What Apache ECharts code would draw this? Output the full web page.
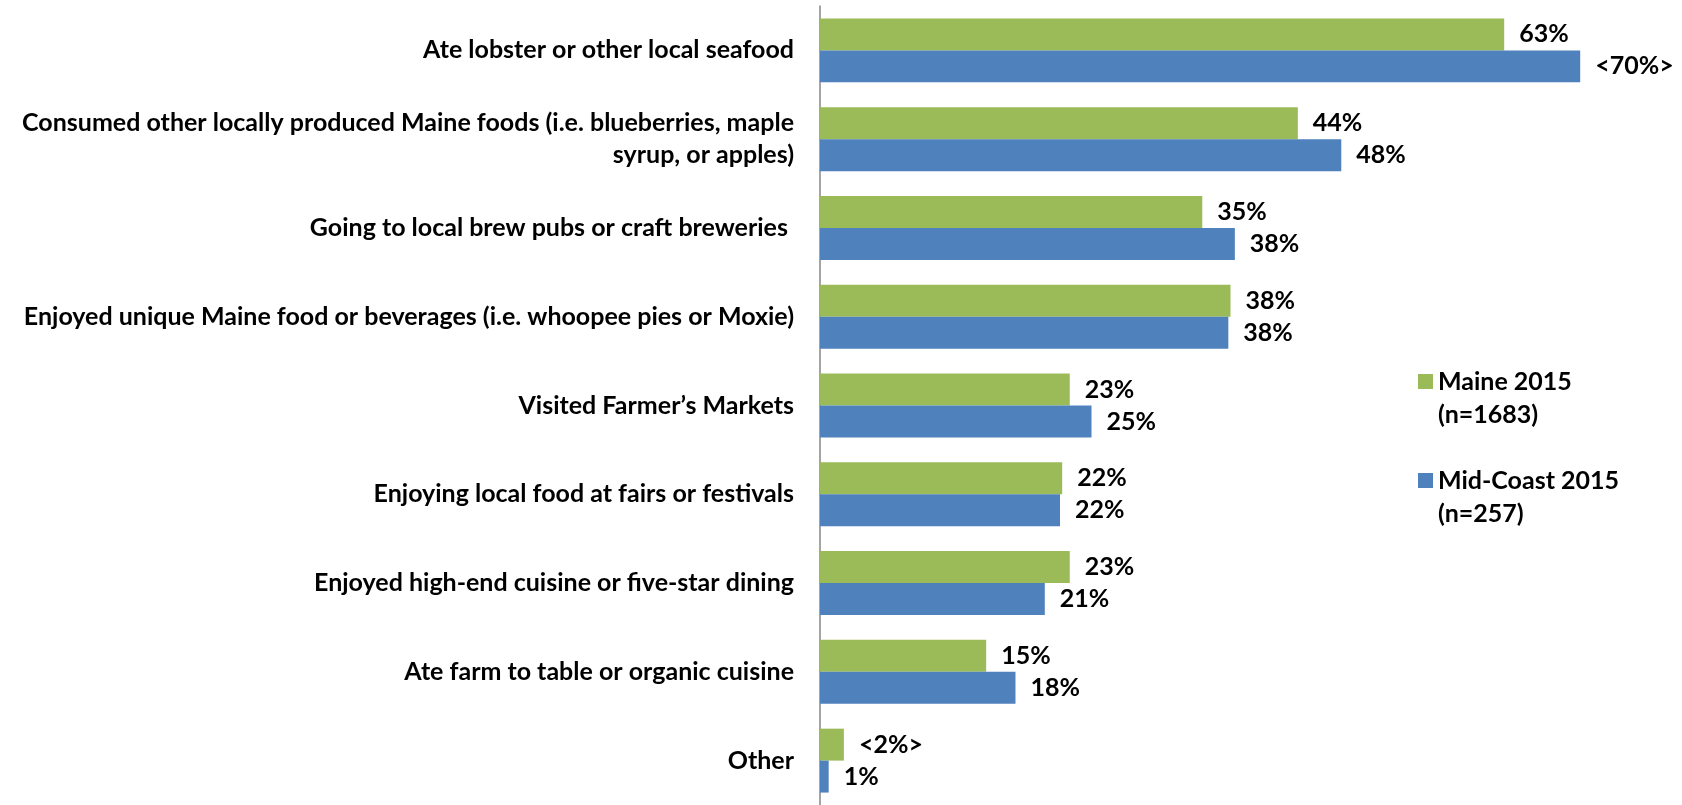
<!DOCTYPE html>
<html>
<head>
<meta charset="utf-8">
<script src="https://cdn.jsdelivr.net/npm/echarts@6/dist/echarts.min.js"></script>
<style>
html,body{margin:0;padding:0;background:#fff;}
#chart{width:1682px;height:805px;}
</style>
</head>
<body>
<div id="chart"></div>
<script>
const categories = [
  'Ate lobster or other local seafood',
  'Consumed other locally produced Maine foods (i.e. blueberries, maple\nsyrup, or apples)',
  'Going to local brew pubs or craft breweries ',
  'Enjoyed unique Maine food or beverages (i.e. whoopee pies or Moxie)',
  'Visited Farmer\u2019s Markets',
  'Enjoying local food at fairs or festivals',
  'Enjoyed high-end cuisine or five-star dining',
  'Ate farm to table or organic cuisine',
  'Other'
];
const maineName = 'Maine 2015\n(n=1683)';
const midName = 'Mid-Coast 2015\n(n=257)';
const maineValues = [63, 44, 35.2, 37.8, 23, 22.3, 23, 15.3, 2.2];
const midValues = [70, 48, 38.2, 37.6, 25, 22.1, 20.7, 18, 0.8];
const maineLabels = ['63%', '44%', '35%', '38%', '23%', '22%', '23%', '15%', '<2%>'];
const midLabels = ['<70%>', '48%', '38%', '38%', '25%', '22%', '21%', '18%', '1%'];

const FONT = 'Lato';
const FS = 25;
const chart = echarts.init(document.getElementById('chart'));
const labelStyle = (labels) => ({
  show: true,
  position: 'right',
  distance: 15,
  fontFamily: FONT,
  fontWeight: 'bold',
  fontSize: FS,
  color: '#000',
  formatter: (p) => labels[p.dataIndex]
});
chart.setOption({
  animation: false,
  backgroundColor: '#fff',
  grid: { left: 820, top: 6, width: 814.5, height: 804 },
  xAxis: {
    type: 'value', min: 0, max: 75, show: false
  },
  yAxis: {
    type: 'category',
    inverse: true,
    data: categories,
    axisLine: { show: true, lineStyle: { color: '#868686', width: 1.5 } },
    axisTick: { show: false },
    axisLabel: {
      margin: 26,
      fontFamily: FONT,
      fontWeight: 'bold',
      fontSize: FS,
      color: '#000',
      lineHeight: 32,
      align: 'right'
    }
  },
  legend: {
    orient: 'vertical',
    left: 1418,
    top: 332,
    padding: 0,
    itemGap: 0,
    itemWidth: 15,
    itemHeight: 15,
    icon: 'rect',
    formatter: (name) => '\n' + name,
    textStyle: {
      fontFamily: FONT,
      fontWeight: 'bold',
      fontSize: FS,
      color: '#000',
      lineHeight: 33
    },
    data: [maineName, midName]
  },
  series: [
    {
      name: maineName, type: 'bar', data: maineValues,
      barGap: '0%', barCategoryGap: '28%',
      itemStyle: { color: '#9BBB59' },
      label: labelStyle(maineLabels)
    },
    {
      name: midName, type: 'bar', data: midValues,
      barGap: '0%', barCategoryGap: '28%',
      itemStyle: { color: '#4F81BD' },
      label: labelStyle(midLabels)
    }
  ]
});
</script>
</body>
</html>
